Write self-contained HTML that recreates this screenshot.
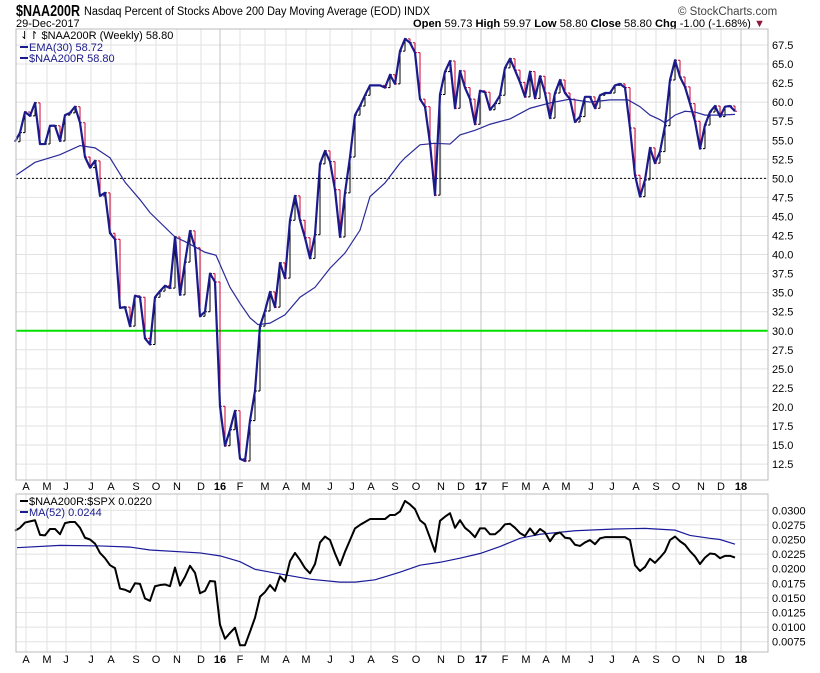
<!DOCTYPE html>
<html><head><meta charset="utf-8"><style>
body{margin:0;background:#fff;}
svg text{font-family:"Liberation Sans",sans-serif;}
</style></head><body>
<svg id="c" width="820" height="668" xmlns="http://www.w3.org/2000/svg">
<rect width="820" height="668" fill="#fff"/>
<text x="16" y="16" font-size="16" font-weight="bold" textLength="64" lengthAdjust="spacingAndGlyphs">$NAA200R</text>
<text x="84" y="15" font-size="11.5" textLength="346" lengthAdjust="spacingAndGlyphs">Nasdaq Percent of Stocks Above 200 Day Moving Average (EOD)  INDX</text>
<text x="16" y="27" font-size="11">29-Dec-2017</text>
<text x="678" y="15" font-size="11.5" fill="#444">© StockCharts.com</text>
<text x="413" y="27" font-size="11" textLength="352" lengthAdjust="spacingAndGlyphs"><tspan font-weight="bold">Open</tspan> 59.73  <tspan font-weight="bold">High</tspan> 59.97  <tspan font-weight="bold">Low</tspan> 58.80  <tspan font-weight="bold">Close</tspan> 58.80  <tspan font-weight="bold">Chg</tspan> -1.00 (-1.68%) <tspan fill="#8b1a3a">▼</tspan></text>
<g id="grid"></g>
<g id="marks"></g>
<rect x="16" y="29" width="752" height="451" fill="none" stroke="#bbb"/>
<rect x="16" y="494" width="752" height="158" fill="none" stroke="#bbb"/>
<g font-size="11">
<text x="20" y="39">⇃↾ $NAA200R (Weekly) 58.80</text>
<line x1="20" y1="47" x2="28" y2="47" stroke="#1a1a8c" stroke-width="2"/><text x="29" y="51" fill="#1a1a8c">EMA(30) 58.72</text>
<line x1="20" y1="58" x2="28" y2="58" stroke="#1a1a8c" stroke-width="2"/><text x="29" y="62" fill="#1a1a8c">$NAA200R 58.80</text>
</g>
<g font-size="11">
<line x1="20" y1="501" x2="28" y2="501" stroke="#000" stroke-width="2"/><text x="29" y="505">$NAA200R:$SPX 0.0220</text>
<line x1="20" y1="512" x2="28" y2="512" stroke="#1a1a8c" stroke-width="2"/><text x="29" y="516" fill="#1a1a8c">MA(52) 0.0244</text>
</g>
</svg>
<script>
const closes=[54.8,56.0,58.7,58.2,59.9,54.5,54.5,56.9,56.9,54.9,58.3,58.6,59.4,57.3,52.8,51.4,52.3,47.7,48.1,42.8,42.0,33.0,33.1,30.6,34.6,34.4,29.0,28.2,34.4,35.2,35.9,35.6,42.3,34.7,39.0,43.1,40.9,31.9,32.5,37.5,36.4,20.1,14.9,17.0,19.5,13.2,12.9,18.2,22.1,30.6,32.6,35.1,33.1,38.9,36.9,44.5,47.7,44.5,42.2,39.5,42.6,51.9,53.6,52.2,48.5,42.3,48.1,52.8,58.3,59.5,60.9,62.2,62.2,62.2,61.9,63.6,62.4,66.7,68.3,67.8,66.5,60.4,59.4,54.6,47.8,61.0,64.0,65.4,59.2,64.1,61.9,60.4,57.1,61.5,61.3,59.0,59.8,60.9,64.5,65.7,64.2,62.6,60.7,64.0,60.5,63.4,61.2,57.9,61.2,62.9,61.2,60.4,57.4,58.1,60.7,60.7,59.2,60.9,61.2,61.2,62.2,62.4,61.9,56.6,50.4,47.6,49.8,54.0,52.0,53.5,56.9,62.9,65.5,63.3,62.0,59.8,57.5,53.9,57.0,58.7,59.5,58.1,59.4,59.5,58.8];
const emaWeeks=[0.2,4,9,13,16,19,22,25,27,32,34,36,38,40.2,43,45,47,48.6,51,54,57,60,63,66,69,71,74,77,78,81,84,87,89,92,95,99,103,107,111,115,119,122.6,125,127,129,130,132,134,136,138,141,144];
const emaValues=[50.4,52.1,53.1,54.3,54.0,52.7,49.5,47.2,45.5,42.3,41.7,41.0,40.3,39.9,35.7,33.6,31.7,30.8,31.0,32.1,34.4,35.7,38.2,40.2,43.2,47.6,49.4,52.0,52.7,54.4,54.6,54.5,55.7,56.3,57.1,57.8,59.2,59.9,60.4,60.0,60.3,60.3,59.4,58.3,57.7,57.3,58.3,58.8,58.7,58.3,58.3,58.4];
const ratio=[0.0265,0.0270,0.0279,0.0281,0.0283,0.0258,0.0257,0.0268,0.0268,0.0259,0.0278,0.0280,0.0280,0.0270,0.0253,0.0250,0.0243,0.0227,0.0218,0.0206,0.0201,0.0166,0.0164,0.0160,0.0175,0.0174,0.0149,0.0145,0.0170,0.0172,0.0173,0.0170,0.0202,0.0171,0.0186,0.0205,0.0193,0.0158,0.0162,0.0179,0.0178,0.0104,0.0080,0.0090,0.0099,0.0069,0.0069,0.0092,0.0116,0.0152,0.0160,0.0172,0.0162,0.0187,0.0178,0.0213,0.0227,0.0215,0.0201,0.0192,0.0208,0.0245,0.0255,0.0249,0.0226,0.0206,0.0229,0.0249,0.0269,0.0275,0.0280,0.0285,0.0285,0.0285,0.0285,0.0292,0.0292,0.0298,0.0316,0.0310,0.0302,0.0283,0.0276,0.0253,0.0229,0.0282,0.0289,0.0295,0.0270,0.0283,0.0270,0.0263,0.0254,0.0269,0.0269,0.0259,0.0259,0.0266,0.0276,0.0277,0.0270,0.0261,0.0256,0.0269,0.0258,0.0268,0.0262,0.0247,0.0259,0.0262,0.0253,0.0252,0.0241,0.0239,0.0245,0.0249,0.0242,0.0252,0.0254,0.0254,0.0254,0.0254,0.0254,0.0249,0.0206,0.0196,0.0203,0.0217,0.0210,0.0219,0.0229,0.0249,0.0255,0.0247,0.0241,0.0230,0.0221,0.0208,0.0219,0.0226,0.0225,0.0218,0.0222,0.0222,0.0219];
const maWeeks=[0.4,9,17,23,27,37,41,45,48,53,59,65,68,72,77,81,85,89,93,97,101,105,112,120,126,132,135,139,141,144];
const maValues=[0.0236,0.0240,0.0239,0.0237,0.0232,0.0227,0.0222,0.0212,0.0199,0.0191,0.0182,0.0177,0.0177,0.0181,0.0194,0.0206,0.0211,0.0218,0.0226,0.0238,0.0252,0.0259,0.0265,0.0268,0.0269,0.0266,0.0257,0.0252,0.0250,0.0242];
const mainTicks=[12.5,15,17.5,20,22.5,25,27.5,30,32.5,35,37.5,40,42.5,45,47.5,50,52.5,55,57.5,60,62.5,65,67.5];
const ratioTicks=[0.0075,0.0100,0.0125,0.0150,0.0175,0.0200,0.0225,0.0250,0.0275,0.0300];
const monthLabels=["A","M","J","J","A","S","O","N","D","16","F","M","A","M","J","J","A","S","O","N","D","17","F","M","A","M","J","J","A","S","O","N","D","18"];
const monthWeeks=[2.2,6.4,10.2,15.2,19.2,24.2,28.2,32.4,37.2,41,45,50,54.2,58.2,63,67.4,71.2,76,80.2,85.2,89.2,93.2,98,102.2,106.2,110.2,115.2,119.4,124.2,128.2,132.2,137.2,141.2,145.2];

const NS='http://www.w3.org/2000/svg';
const X=i=>15+5*i;
const YM=v=>45+(67.5-v)/2.5*19.05;
const YL=v=>510.3+(0.03-v)/0.0025*14.6;
function mk(t,a,p){const e=document.createElementNS(NS,t);for(const k in a)e.setAttribute(k,a[k]);p.appendChild(e);return e;}
const grid=document.getElementById('grid'),marks=document.getElementById('marks');
mainTicks.forEach(v=>{
  const l=mk('line',{x1:16,x2:768,y1:YM(v),y2:YM(v),stroke:'#e2e2e2'},grid);
  
  
  const t=mk('text',{x:772,y:YM(v)+4,'font-size':11},grid);t.textContent=v.toFixed(1);
  
  
});
ratioTicks.forEach(v=>{
  const l=mk('line',{x1:16,x2:768,y1:YL(v),y2:YL(v),stroke:'#e2e2e2'},grid);
  
  
  const t=mk('text',{x:772,y:YL(v)+4,'font-size':11},grid);t.textContent=v.toFixed(4);
  
  
});
monthWeeks.forEach((w,i)=>{
  const x=X(w);const yr=/\d/.test(monthLabels[i]);
  if(x<768){
  const g1=mk('line',{x1:x,x2:x,y1:29,y2:480,stroke:yr?'#c4c4c4':'#e2e2e2'},grid);
  
  
  const g2=mk('line',{x1:x,x2:x,y1:494,y2:652,stroke:yr?'#c4c4c4':'#e2e2e2'},grid);
  
  }
  [490,663].forEach(y=>{
    const t=mk('text',{x:x,y:y,'font-size':11,'text-anchor':'middle','font-weight':yr?'bold':'normal'},grid);
    t.textContent=monthLabels[i];
    
    
  });
});
const d50=mk('line',{x1:16,x2:768,y1:YM(50),y2:YM(50),stroke:'#000','stroke-dasharray':'2,2'},marks);


const g30=mk('line',{x1:16,x2:768,y1:YM(30),y2:YM(30),stroke:'#00e000','stroke-width':2},marks);


for(let i=1;i<closes.length;i++){
  const x=X(i),o=closes[i-1],c=closes[i],col=c<o?'#cc0033':'#000';
  const b=mk('path',{d:`M${x},${YM(o)}V${YM(c)}M${x-2},${YM(o)}H${x}M${x},${YM(c)}H${x+2}`,stroke:col,fill:'none'},marks);
  
  
}
const ema=mk('polyline',{points:emaWeeks.map((w,i)=>X(w)+','+YM(emaValues[i])).join(' '),fill:'none',stroke:'#2a2a9a','stroke-width':1.2},marks);


const cl=mk('polyline',{points:closes.map((v,i)=>X(i)+','+YM(v)).join(' '),fill:'none',stroke:'#1a1a8c','stroke-width':2.2,'stroke-linejoin':'round'},marks);


const ma=mk('polyline',{points:maWeeks.map((w,i)=>X(w)+','+YL(maValues[i])).join(' '),fill:'none',stroke:'#1a1a9a','stroke-width':1.2},marks);


const rl=mk('polyline',{points:ratio.map((v,i)=>X(i)+','+YL(v)).join(' '),fill:'none',stroke:'#000','stroke-width':2,'stroke-linejoin':'round'},marks);


</script>
</body></html>
